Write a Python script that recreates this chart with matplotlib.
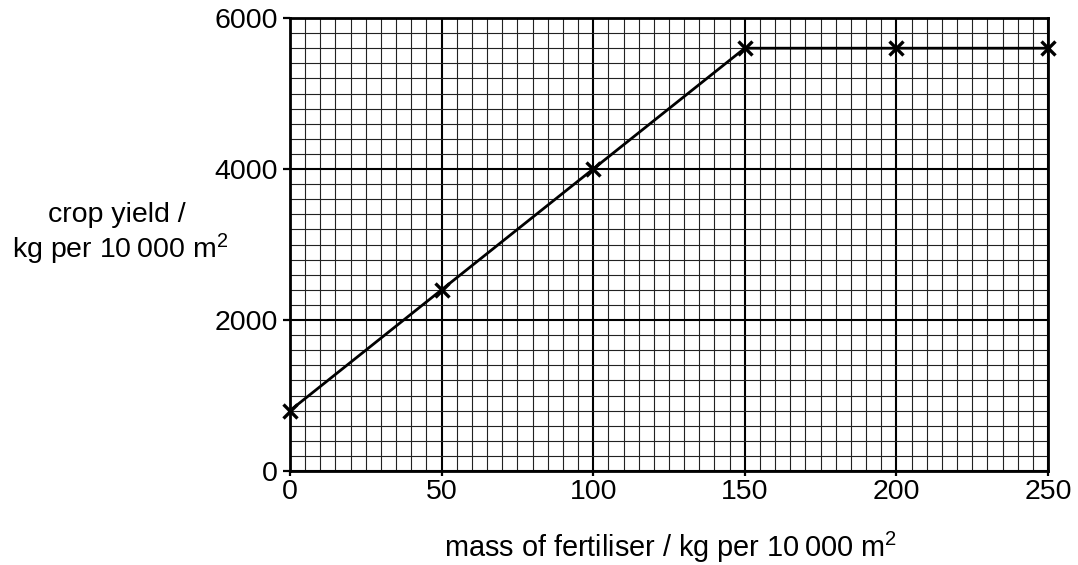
import matplotlib
matplotlib.use("Agg")
import matplotlib.pyplot as plt
import numpy as np

mass = [0, 50, 100, 150, 200, 250]
yield_ = [800, 2400, 4000, 5600, 5600, 5600]
x_ticks = [0, 50, 100, 150, 200, 250]
y_ticks = [0, 2000, 4000, 6000]

plt.rcParams['font.family'] = ['Liberation Sans', 'DejaVu Sans']
plt.rcParams['mathtext.fontset'] = 'custom'
plt.rcParams['mathtext.rm'] = 'Liberation Sans'
plt.rcParams['mathtext.it'] = 'Liberation Sans:italic'
plt.rcParams['mathtext.bf'] = 'Liberation Sans:bold'

W, H = 1078, 565
fig = plt.figure(figsize=(W/100, H/100), dpi=100)
ax = fig.add_axes([290/W, 1 - 471/H, (1048-290)/W, (471-18)/H])
ax.set_xlim(0, 250)
ax.set_ylim(0, 6000)

ax.set_xticks(x_ticks)
ax.set_yticks(y_ticks)
ax.set_xticks(np.arange(0, 251, 5), minor=True)
ax.set_yticks(np.arange(0, 6001, 200), minor=True)
ax.grid(which='minor', color='#222222', linewidth=0.8)
ax.grid(which='major', color='black', linewidth=1.5)
ax.set_axisbelow(True)
ax.tick_params(which='minor', length=0)
ax.tick_params(axis='both', which='major', width=1.6, direction='out', labelsize=20.5)
ax.tick_params(axis='y', which='major', length=5, pad=4)
ax.tick_params(axis='x', which='major', length=3.5, pad=2)
for s in ax.spines.values():
    s.set_linewidth(2)

ax.plot(mass, yield_, color='black', linewidth=2, marker='x', markersize=10,
        markeredgewidth=2.4, clip_on=False, zorder=5)

fig.text(117/W, 1 - 222/H, "crop yield /", ha='center', va='baseline', fontsize=20.5)
fig.text(120/W, 1 - 258/H, "kg per 10\u2009000 m$^\\mathrm{2}$", ha='center', va='baseline',
         fontsize=20.5)
fig.text(671/W, 1 - 557/H, "mass of fertiliser / kg per 10\u2009000 m$^\\mathrm{2}$",
         ha='center', va='baseline', fontsize=20.8)

fig.savefig("out.png", dpi=100)
